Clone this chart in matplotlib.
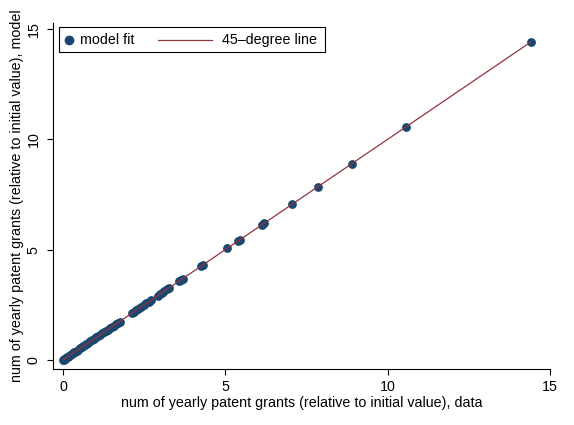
import matplotlib
matplotlib.use('Agg')
import matplotlib.pyplot as plt
from matplotlib.lines import Line2D
from matplotlib.patches import Rectangle

plt.rcParams['font.family'] = ['Liberation Sans', 'DejaVu Sans']

# yearly patent grants relative to initial value, data vs model
data = [0.0, 0.02, 0.04, 0.06, 0.09, 0.12, 0.15, 0.18, 0.22, 0.26, 0.3, 0.34,
        0.38, 0.42, 0.47, 0.52, 0.57, 0.62, 0.67, 0.72, 0.78, 0.84, 0.9, 0.96,
        1.02, 1.08, 1.14, 1.2, 1.26, 1.32, 1.38, 1.44, 1.5, 1.56, 1.62, 1.68,
        1.74, 2.12, 2.18, 2.25, 2.32, 2.4, 2.48, 2.56, 2.64, 2.7, 2.92, 2.98,
        3.05, 3.12, 3.2, 3.27, 3.58, 3.64, 3.68, 4.26, 4.32, 5.06, 5.38, 5.44,
        6.12, 6.2, 7.05, 7.85, 8.89, 10.57, 14.42]
model = [0.0, 0.02, 0.04, 0.06, 0.09, 0.12, 0.15, 0.18, 0.22, 0.26, 0.3, 0.34,
         0.38, 0.42, 0.47, 0.52, 0.57, 0.62, 0.67, 0.72, 0.78, 0.84, 0.9, 0.96,
         1.02, 1.08, 1.14, 1.2, 1.26, 1.32, 1.38, 1.44, 1.5, 1.56, 1.62, 1.68,
         1.74, 2.12, 2.18, 2.25, 2.32, 2.4, 2.48, 2.56, 2.64, 2.7, 2.92, 2.98,
         3.05, 3.12, 3.2, 3.27, 3.58, 3.64, 3.68, 4.26, 4.32, 5.06, 5.38, 5.44,
         6.12, 6.2, 7.05, 7.85, 8.89, 10.57, 14.42]
ticks = [0, 5, 10, 15]
labels = ['model fit', '45\u2013degree line']

navy = '#1a476f'
maroon = '#90353b'
W, H = 574, 425
fs = 10.3

fig = plt.figure(figsize=(W / 100, H / 100), dpi=100)
ax = fig.add_axes([53 / W, 1 - 369 / H, (550 - 53) / W, (369 - 23) / H])

ax.scatter(data, model, s=40, color=navy, zorder=2, linewidths=0)
lo, hi = min(data), max(data)
ax.plot([lo, hi], [lo, hi], color=maroon, lw=0.9, zorder=3)

ax.set_xlim(-0.31, 15.0)
ax.set_ylim(-0.41, 15.27)
ax.set_xticks(ticks)
ax.set_yticks(ticks)
ax.tick_params(direction='out', length=4, width=0.8, labelsize=fs, colors='black')
ax.tick_params(axis='x', pad=4)
ax.tick_params(axis='y', pad=5)
for lab in ax.get_yticklabels():
    lab.set_rotation(90)
    lab.set_va('center')
for side in ['top', 'right']:
    ax.spines[side].set_visible(False)
for side in ['left', 'bottom']:
    ax.spines[side].set_linewidth(0.8)

ax.set_xlabel('num of yearly patent grants (relative to initial value), data', fontsize=fs, labelpad=1)
ax.set_ylabel('num of yearly patent grants (relative to initial value), model', fontsize=fs, labelpad=2)

# legend drawn stata-style: short marker key, longer line key
def px(x, y):
    return x / W, 1 - y / H

box = Rectangle(px(59, 52), (325 - 59) / W, 25 / H, transform=fig.transFigure,
                fill=True, facecolor='white', edgecolor='black', lw=0.8, zorder=5)
fig.add_artist(box)
fig.add_artist(Line2D([px(69, 40)[0]], [px(69, 40)[1]], marker='o', ls='none', color=navy,
                      markersize=6, transform=fig.transFigure, zorder=6))
fig.text(*px(80, 40), labels[0], fontsize=fs, va='center', ha='left', zorder=6)
fig.add_artist(Line2D([158 / W, 212 / W], [px(0, 40)[1]] * 2, color=maroon, lw=0.9,
                      transform=fig.transFigure, zorder=6))
fig.text(*px(222, 40), labels[1], fontsize=fs, va='center', ha='left', zorder=6)

fig.savefig('out.png', dpi=100)
